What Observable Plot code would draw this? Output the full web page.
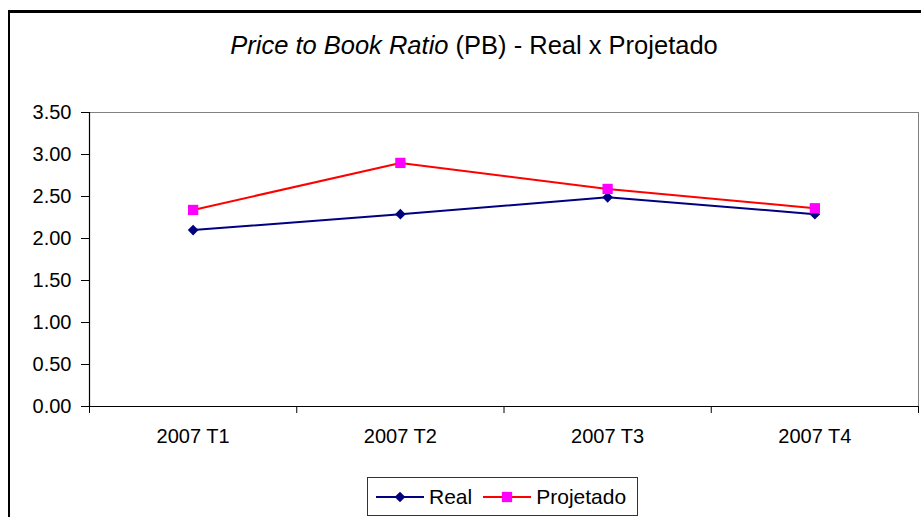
<!DOCTYPE html>
<html>
<head>
<meta charset="utf-8">
<script src="https://cdn.jsdelivr.net/npm/d3@7"></script>
<script src="https://cdn.jsdelivr.net/npm/@observablehq/plot@0.6"></script>
<style>
  html, body { margin: 0; padding: 0; background: #fff; }
  body { width: 921px; height: 517px; overflow: hidden; position: relative; font-family: "Liberation Sans", Arial, sans-serif; }
  #frame { position: absolute; left: 8px; top: 10px; width: 940px; height: 520px; border-left: 2px solid #000; border-top: 3px solid #000; box-sizing: border-box; }
  #title { position: absolute; left: 0; width: 948px; top: 31px; text-align: center; font-size: 25.5px; color: #000; }
  #chart { position: absolute; left: 0; top: 0; }
  #legend { position: absolute; left: 367px; top: 477px; width: 271px; height: 39px; border: 1px solid #333; box-sizing: border-box; display: flex; align-items: center; font-size: 21px; background: #fff; }
  #legend .item { display: flex; align-items: center; }
  #legend svg { display: block; }
</style>
</head>
<body>
<div id="frame"></div>
<div id="title"><i>Price to Book Ratio</i> (PB) - Real x Projetado</div>
<div id="chart"></div>
<div id="legend"></div>
<script>
const categories = ["2007 T1", "2007 T2", "2007 T3", "2007 T4"];
const real = [2.10, 2.29, 2.49, 2.29];
const projetado = [2.34, 2.90, 2.59, 2.36];
const yTicks = [0, 0.5, 1, 1.5, 2, 2.5, 3, 3.5];
const seriesNames = ["Real", "Projetado"];

const colors = { Real: { line: "#000080", fill: "#000080", symbol: "diamond2", r: 4.8 },
                 Projetado: { line: "#FF0000", fill: "#FF00FF", symbol: "square", r: 5.8 } };

const data = [];
categories.forEach((c, i) => {
  data.push({ series: "Real", cat: c, i: i + 0.5, value: real[i] });
  data.push({ series: "Projetado", cat: c, i: i + 0.5, value: projetado[i] });
});
const boundaries = d3.range(categories.length + 1);
const centers = categories.map((c, i) => i + 0.5);

const chart = Plot.plot({
  width: 921,
  height: 517,
  marginLeft: 89,
  marginRight: 3,
  marginTop: 112,
  marginBottom: 111,
  style: { fontFamily: "'Liberation Sans', Arial, sans-serif", fontSize: "20px", background: "transparent", color: "#000", overflow: "visible" },
  x: { domain: [0, categories.length] },
  y: { domain: [0, 3.5] },
  marks: [
    Plot.ruleY([3.5], { stroke: "#808080", strokeWidth: 1 }),
    Plot.ruleX([categories.length], { stroke: "#808080", strokeWidth: 1 }),
    Plot.axisY({ ticks: yTicks, tickFormat: d3.format(".2f"), tickSize: 8, tickPadding: 10, label: null, stroke: "#000", strokeOpacity: 1, fontSize: 20 }),
    Plot.axisX({ ticks: boundaries, tickFormat: () => "", tickSize: 7, label: null, strokeOpacity: 1 }),
    Plot.axisX({ ticks: centers, tickFormat: (d) => categories[Math.floor(d)], tickSize: 0, tickPadding: 22, label: null, fontSize: 20 }),
    Plot.ruleX([0], { stroke: "#000", strokeWidth: 1.2 }),
    Plot.ruleY([0], { stroke: "#000", strokeWidth: 1.2 }),
    Plot.line(data.filter(d => d.series === "Real"), { x: "i", y: "value", stroke: colors.Real.line, strokeWidth: 2 }),
    Plot.line(data.filter(d => d.series === "Projetado"), { x: "i", y: "value", stroke: colors.Projetado.line, strokeWidth: 2 }),
    Plot.dot(data.filter(d => d.series === "Real"), { x: "i", y: "value", symbol: "diamond2", r: colors.Real.r, fill: colors.Real.fill, stroke: "none" }),
    Plot.dot(data.filter(d => d.series === "Projetado"), { x: "i", y: "value", symbol: "square", r: colors.Projetado.r, fill: colors.Projetado.fill, stroke: "none" })
  ]
});
document.getElementById("chart").appendChild(chart);

// legend
const legend = d3.select("#legend");
seriesNames.forEach((name, k) => {
  const c = colors[name];
  const item = legend.append("div").attr("class", "item").style("margin-left", k === 0 ? "8px" : "11px");
  const svg = item.append("svg").attr("width", 48).attr("height", 20);
  svg.append("line").attr("x1", 0).attr("x2", 48).attr("y1", 10).attr("y2", 10).attr("stroke", c.line).attr("stroke-width", 2);
  svg.append("path").attr("transform", "translate(24,10)")
    .attr("d", d3.symbol(name === "Real" ? d3.symbolDiamond2 : d3.symbolSquare, Math.PI * c.r * c.r)())
    .attr("fill", c.fill);
  item.append("span").text(name).style("margin-left", "5px");
});
</script>
</body>
</html>
